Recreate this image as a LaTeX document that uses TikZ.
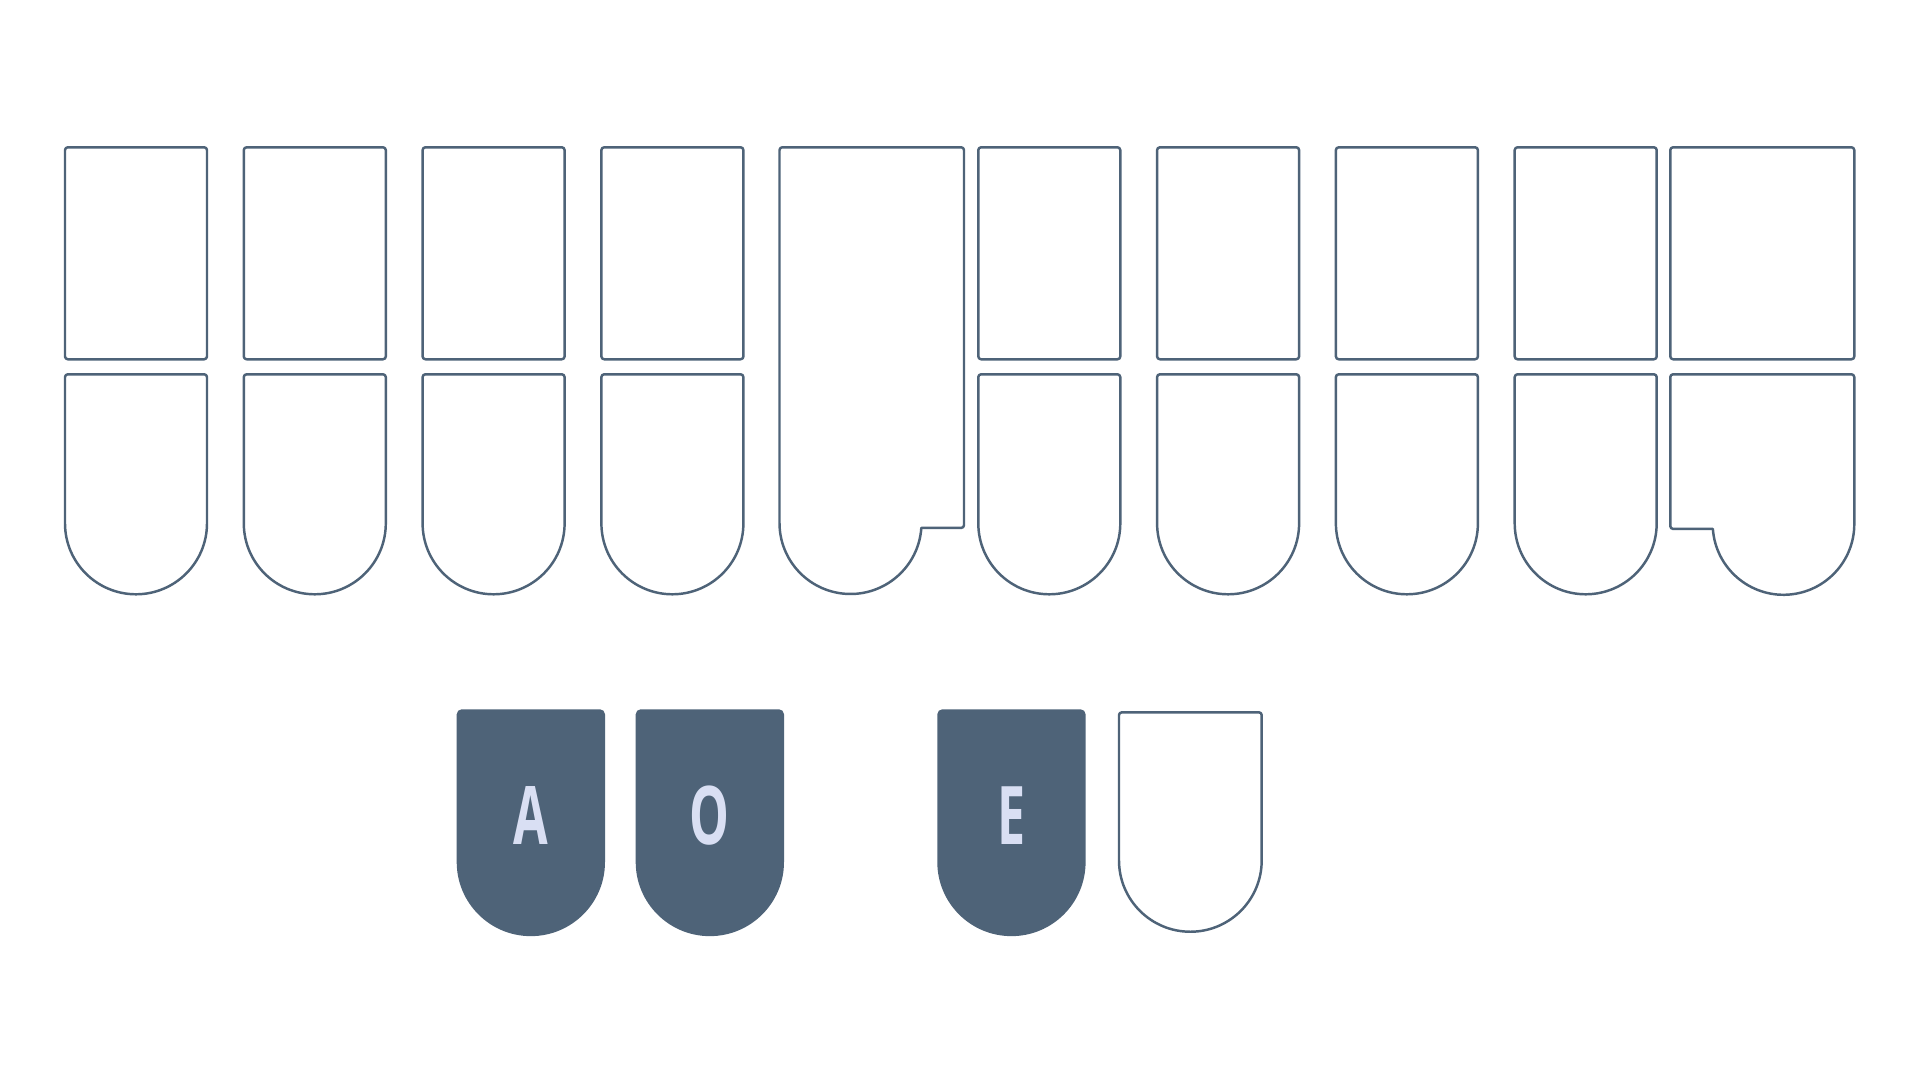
\documentclass[tikz,border=0pt]{standalone}
\usepackage{fontspec}
\newfontfamily\keyfont[FakeStretch=0.62]{Open Sans}
\definecolor{slate}{HTML}{4E6378}
\definecolor{lav}{HTML}{D9DFF3}
% #1 style, #2 left x, #3 top y, #4 width, #5 y where the straight sides end, #6 corner radius
\newcommand{\ukey}[6]{%
  \path[#1] (#2,#5) -- (#2,#3-#6) arc[start angle=180,end angle=90,radius=#6]
    -- (#2+#4-#6,#3) arc[start angle=90,end angle=0,radius=#6]
    -- (#2+#4,#5) arc[start angle=0,end angle=-180,radius=#4/2] -- cycle;}
\begin{document}
\begin{tikzpicture}[x=0.01cm,y=0.01cm,
  keyline/.style={draw=slate,line width=0.7pt,fill=white,line join=round},
  keyrect/.style={keyline,rounded corners=0.8pt},
  keyfill/.style={fill=slate},
  keylabel/.style={text=lav,font=\keyfont\bfseries\fontsize{23}{23}\selectfont,anchor=base,inner sep=0pt}]
\useasboundingbox (0,0) rectangle (1920,-1080);
\fill[white] (0,0) rectangle (1920,-1080);
% regular keys, top and bottom rows
\foreach \L in {65,243.8,422.6,601.4,978.3,1157.1,1335.9,1514.7}{
  \draw[keyrect] (\L,-147.3) rectangle ++(142,-212);
  \ukey{keyline}{\L}{-374.3}{142}{-523.3}{2.8}
}
% asterisk key (tall, left of vowels)
\draw[keyline] (779.5,-523) -- (779.5,-150.1) arc[start angle=180,end angle=90,radius=2.8]
   -- (961.2,-147.3) arc[start angle=90,end angle=0,radius=2.8]
   -- (964,-525.15) arc[start angle=0,end angle=-90,radius=2.8]
   -- (921.33,-527.95) arc[start angle=-4,end angle=-180,radius=71] -- cycle;
% last column
\draw[keyrect] (1670.3,-147.3) rectangle (1854.3,-359.3);
\draw[keyline] (1854.3,-524) -- (1854.3,-377.1) arc[start angle=0,end angle=90,radius=2.8]
   -- (1673.1,-374.3) arc[start angle=90,end angle=180,radius=2.8]
   -- (1670.3,-526.14) arc[start angle=180,end angle=270,radius=2.8]
   -- (1712.87,-528.94) arc[start angle=184,end angle=360,radius=70.8] -- cycle;
% vowel keys
\ukey{keyfill}{456.7}{-709.3}{148.3}{-862}{5}
\ukey{keyfill}{635.7}{-709.3}{148.3}{-862}{5}
\ukey{keyfill}{937.3}{-709.3}{148.3}{-862}{5}
\ukey{keyline}{1119}{-712.3}{142.7}{-860.4}{2.8}
\node[keylabel] (la) at (530.8,-844.3) {A};
\node[keylabel] (lo) at (709.9,-844.3) {O};
\node[keylabel] (le) at (1011.5,-844.3) {E};
\end{tikzpicture}
\end{document}
